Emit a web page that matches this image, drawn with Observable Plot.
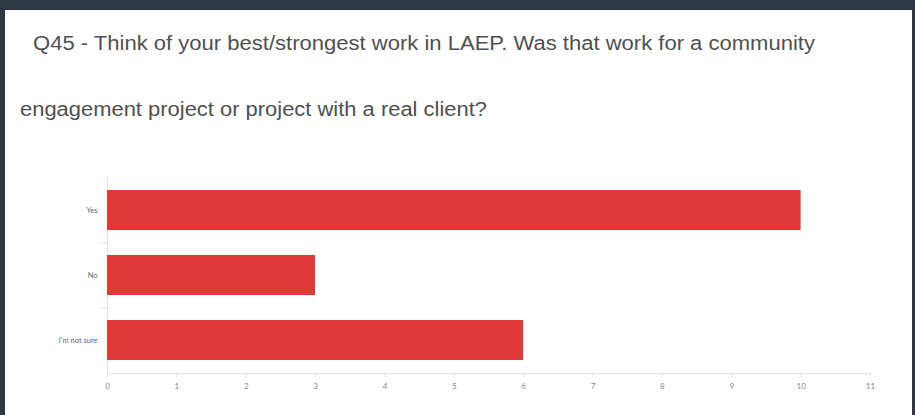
<!DOCTYPE html>
<html>
<head>
<meta charset="utf-8">
<script src="https://cdn.jsdelivr.net/npm/d3@7"></script>
<script src="https://cdn.jsdelivr.net/npm/@observablehq/plot@0.6"></script>
<style>
  html, body { margin: 0; padding: 0; background: #2e3843; }
  #stage { position: relative; width: 915px; height: 415px; overflow: hidden; background: #2e3843; }
  #panel { position: absolute; left: 5px; top: 10px; width: 907px; height: 410px; background: #ffffff; }
  .title { position: absolute; font-family: "Liberation Sans", Arial, sans-serif; font-size: 20px; color: #505050; white-space: nowrap; transform-origin: 0 0; }
  #t1 { left: 28px; top: 22px; }
  #t2 { left: 15px; top: 88px; }
  #chart { position: absolute; left: 0; top: 140px; }
</style>
</head>
<body>
<div id="stage">
  <div id="panel">
    <div class="title" id="t1">Q45 - Think of your best/strongest work in LAEP. Was that work for a community</div>
    <div class="title" id="t2">engagement project or project with a real client?</div>
    <div id="chart"></div>
  </div>
</div>
<script>
const categories = ["Yes", "No", "I'm not sure"];
const counts = [10, 3, 6];
const xTicks = [0, 1, 2, 3, 4, 5, 6, 7, 8, 9, 10, 11];

const data = categories.map((c, i) => ({answer: c, count: counts[i]}));

const width = 907, height = 265;
const marginTop = 27, marginBottom = 42, marginLeft = 102, marginRight = 42;
const step = (height - marginTop - marginBottom) / (categories.length - 0.39 + 0.4);

const plot = Plot.plot({
  width, height, marginTop, marginBottom, marginLeft, marginRight,
  style: {background: "transparent", fontFamily: "Lato, 'Liberation Sans', sans-serif"},
  x: {domain: [0, 11]},
  y: {domain: categories, paddingInner: 0.39, paddingOuter: 0.2},
  marks: [
    Plot.ruleX([0], {stroke: "#e4e4e4"}),
    Plot.frame({anchor: "bottom", stroke: "#e4e4e4"}),
    Plot.ruleY(categories.slice(1), {y: d => d, x1: -0.1, x2: 0, dy: -step / 2, stroke: "#e0e0e0"}),
    Plot.barX(data, {x: "count", y: "answer", fill: "#e13838"}),
    Plot.axisY({tickSize: 0, tickPadding: 10, fontSize: 7.5, color: "#666", label: null}),
    Plot.axisX({ticks: xTicks, tickSize: 4, tickPadding: 6, fontSize: 8, color: "#888", stroke: "#e0e0e0", label: null, tickFormat: d => String(d)})
  ]
});
document.getElementById("chart").appendChild(plot);

function fit(id, w) {
  const el = document.getElementById(id);
  const cur = el.getBoundingClientRect().width;
  el.style.transform = `scaleX(${w / cur})`;
}
fit("t1", 782);
fit("t2", 467);
</script>
</body>
</html>
